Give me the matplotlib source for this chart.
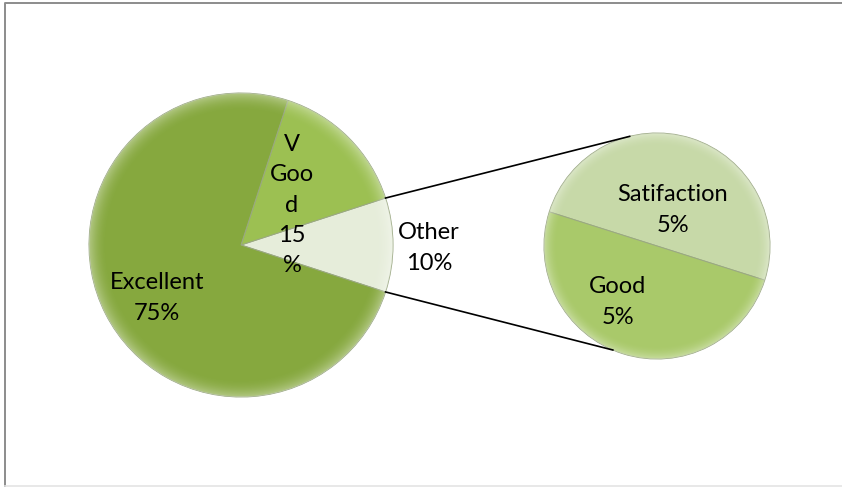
import numpy as np
import matplotlib.pyplot as plt
from matplotlib.lines import Line2D

# данные диаграммы
main_labels = ["Other", "V Good", "Excellent"]
main_values = [10, 15, 75]
main_colors = ["#E6EDDA", "#9CC052", "#86A83E"]

sub_labels = ["Satifaction", "Good"]
sub_values = [5, 5]
sub_colors = ["#C7D9A8", "#A9C96A"]

W, H = 842, 487
fig = plt.figure(figsize=(W / 100, H / 100), dpi=100)
ax = fig.add_axes([0, 0, 1, 1])

# основной круг
c1, r1 = (241, H - 245), 152
wedges1, _ = ax.pie(main_values, colors=main_colors, startangle=-18,
                    counterclock=True, center=c1, radius=r1,
                    wedgeprops=dict(edgecolor="#9aa882", linewidth=0.7))

# второй круг (раскрытие "Other")
c2, r2 = (657, H - 246), 113
wedges2, _ = ax.pie(sub_values, colors=sub_colors, startangle=-17.6,
                    counterclock=True, center=c2, radius=r2,
                    wedgeprops=dict(edgecolor="#9aa882", linewidth=0.7))

# лёгкий объём (bevel) — радиальная засветка внутри кругов
for (cx, cy), r, wedges in [(c1, r1, wedges1), (c2, r2, wedges2)]:
    yy, xx = np.mgrid[-1:1:300j, -1:1:300j]
    rr = np.sqrt(xx ** 2 + yy ** 2)
    shade = np.clip((rr - 0.88) / 0.12, 0, 1) ** 2
    img = np.zeros((300, 300, 4))
    img[..., :3] = 1.0
    img[..., 3] = shade * 0.35
    for w in wedges:
        im = ax.imshow(img, extent=(cx - r, cx + r, cy - r, cy + r),
                       origin="lower", zorder=2)
        im.set_clip_path(w)

# соединительные линии
t = np.deg2rad([18, -18])
p = np.deg2rad([104, 247])
for a, b in zip(t, p):
    ax.plot([c1[0] + r1 * np.cos(a), c2[0] + r2 * np.cos(b)],
            [c1[1] + r1 * np.sin(a), c2[1] + r2 * np.sin(b)],
            color="black", lw=1.2, zorder=3)

# подписи
font = dict(family=["Lato", "DejaVu Sans"], fontsize=17, ha="center",
            va="center", linespacing=1.55, color="black", zorder=4)
main_text = {
    "Other": "Other\n10%",
    "V Good": "V\nGoo\nd\n15\n%",
    "Excellent": "Excellent\n75%",
}
main_pos = {"Other": (429, 248), "V Good": (292, 205), "Excellent": (157, 298)}
for lab in main_labels:
    x, y = main_pos[lab]
    ax.text(x, H - y, main_text[lab], **font)

sub_pos = {"Satifaction": (673, 210), "Good": (618, 302)}
for lab, v in zip(sub_labels, sub_values):
    x, y = sub_pos[lab]
    ax.text(x, H - y, f"{lab}\n{v}%", **font)

ax.set_xlim(0, W)
ax.set_ylim(0, H)
ax.set_aspect("auto")
ax.axis("off")

# рамка области диаграммы (правый край обрезан)
fig.lines.append(Line2D([4.5 / W, 4.5 / W, 1.0], [0, 1 - 2.5 / H, 1 - 2.5 / H],
                        transform=fig.transFigure, color="#8c8c8c", lw=1.4))
fig.lines.append(Line2D([4.5 / W, 1.0], [1.5 / H, 1.5 / H],
                        transform=fig.transFigure, color="#e4e4e4", lw=1.2))

fig.savefig("out.png", dpi=100)
